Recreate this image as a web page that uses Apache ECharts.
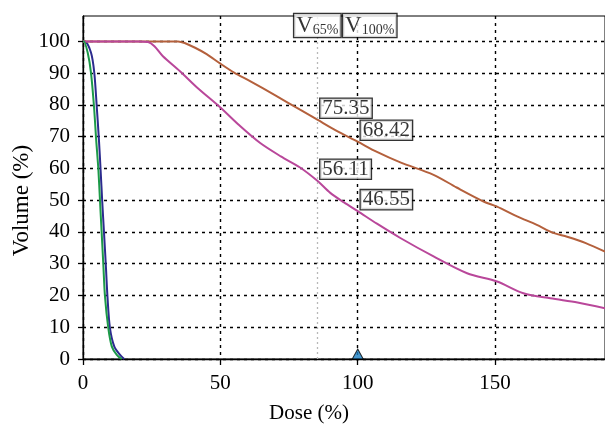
<!DOCTYPE html>
<html>
<head>
<meta charset="utf-8">
<script src="https://cdn.jsdelivr.net/npm/echarts@6/dist/echarts.min.js"></script>
<style>html,body{margin:0;padding:0;background:#fff}#c{width:605px;height:435px}</style>
</head>
<body>
<div id="c"></div>
<script>
// ---- data ----
const xTicks = [0, 50, 100, 150];
const yTicks = [0, 10, 20, 30, 40, 50, 60, 70, 80, 90, 100];
const xMax = 190;
const yMax = 108;
const brownCurve = [[0,100],[34.6,100],[37,99.5],[40.8,98],[45,96],[50,93],[55,90.2],[60.8,87.5],[70,83],[79,78.5],[85.3,75.35],[92,72],[100,68.42],[107,65.2],[115.5,61.9],[127.6,58],[136,54],[145.8,49.6],[150.7,48],[158,44.9],[165,42.3],[171.2,39.7],[176.2,38.5],[183,36.5],[190,33.8]];
const magentaCurve = [[0,100],[20,100],[23.7,99.8],[26,98.5],[29,95.4],[35.3,90.6],[41.5,85.5],[50,79.2],[57,73.5],[64.5,68],[72,63.8],[79,60.3],[85.3,56.11],[90,52.3],[95,49.3],[100,46.55],[107,42.6],[115.5,38.1],[127.6,32.3],[139.8,27],[150.7,24.4],[160.3,20.7],[170.1,19.1],[180,17.8],[190,16]];
const blueCurve = [[0,100],[0.7,100],[2.9,96.5],[4.1,90.2],[5,79.5],[5.8,69],[6.4,59.6],[7,49.6],[7.65,39.7],[8.3,29.7],[8.9,19.7],[9.8,9.8],[11.4,3.9],[13.5,1.3],[15,0]];
const greenCurve = [[0,100],[0.3,100],[1.7,96.5],[2.9,90.2],[4,79.5],[4.8,69],[5.6,59.6],[6.2,49.6],[6.8,39.7],[7.4,29.7],[8,19.7],[9.2,9.8],[10.5,3.9],[12.3,1.3],[14.1,0]];
const refDoses = [85.3, 100];          // V65%, V100% dose lines
const refLabels = ['65%', '100%'];
const valueMarks = [[85.3,75.35],[100,68.42],[85.3,56.11],[100,46.55]];
const prescription = [[100, 0]];

const FONT = 'Liberation Serif';
const chart = echarts.init(document.getElementById('c'), null, {renderer: 'canvas'});

const dotted = {color: '#000', width: 1.4, type: [3, 4]};

chart.setOption({
  animation: false,
  backgroundColor: '#fff',
  grid: {left: 83, right: 0, top: 16, bottom: 76, show: true, borderColor: '#000', borderWidth: 1,
         backgroundColor: 'transparent', containLabel: false, outerBoundsMode: 'none'},
  xAxis: {
    type: 'value', min: 0, max: xMax, interval: 50,
    name: 'Dose (%)', nameLocation: 'middle', nameGap: 44, nameMoveOverlap: false,
    nameTextStyle: {fontFamily: FONT, fontSize: 21, color: '#000', padding: [0, 70, 0, 0]},
    axisLine: {show: true, lineStyle: {color: '#000', width: 1.3}},
    axisTick: {show: true, length: 6, lineStyle: {color: '#000', width: 1.3}, customValues: xTicks},
    axisLabel: {fontFamily: FONT, fontSize: 21, color: '#000', margin: 14, customValues: xTicks},
    splitLine: {show: true, lineStyle: dotted}
  },
  yAxis: {
    type: 'value', min: 0, max: yMax, interval: 10,
    name: 'Volume (%)', nameLocation: 'middle', nameGap: 50, nameRotate: 90, nameMoveOverlap: false,
    nameTextStyle: {fontFamily: FONT, fontSize: 23, color: '#000', padding: [0, 26, 0, 0]},
    axisLine: {show: true, lineStyle: {color: '#000', width: 1.3}},
    axisTick: {show: true, length: 5, lineStyle: {color: '#000', width: 1.3}, customValues: yTicks},
    axisLabel: {fontFamily: FONT, fontSize: 21, color: '#000', margin: 13, customValues: yTicks},
    splitLine: {show: true, lineStyle: dotted}
  },
  series: [
    {type: 'line', data: brownCurve, showSymbol: false, smooth: 0.3, lineStyle: {color: '#b4603c', width: 2}, z: 3,
     markLine: {silent: true, symbol: 'none', label: {show: false},
       lineStyle: {color: '#b8b8b8', width: 1.3, type: [2, 3]},
       data: refDoses.slice(0, 1).map(d => ({xAxis: d}))}},
    {type: 'line', data: magentaCurve, showSymbol: false, smooth: 0.3, lineStyle: {color: '#b9479a', width: 2}, z: 3},
    {type: 'line', data: greenCurve, showSymbol: false, smooth: 0.3, lineStyle: {color: '#1c9a48', width: 2}, z: 3},
    {type: 'line', data: blueCurve, showSymbol: false, smooth: 0.3, lineStyle: {color: '#2c2b8e', width: 2}, z: 2},
    {type: 'scatter', symbolSize: 0, z: 10, silent: true,
     data: valueMarks.map(v => ({value: v})),
     label: {show: true, position: [3, -2], align: 'left', verticalAlign: 'bottom',
       formatter: p => p.value[1].toFixed(2),
       fontFamily: FONT, fontSize: 21, lineHeight: 19, color: '#000',
       backgroundColor: '#fff', borderColor: '#000', borderWidth: 1.3, padding: [0, 2, 0, 2]}},
    {type: 'scatter', symbolSize: 0, z: 10, silent: true,
     data: refDoses.map((d, i) => ({value: [d, yMax], name: refLabels[i],
       label: {position: i === 0 ? [0, -2] : [12, -2]}})),
     label: {show: true, align: 'center', verticalAlign: 'top',
       formatter: p => '{v|V}{s|' + p.name + '}',
       backgroundColor: '#fff', borderColor: '#000', borderWidth: 1.3, padding: [1, 2, 0, 2],
       rich: {v: {fontFamily: FONT, fontSize: 23, color: '#000', lineHeight: 22, verticalAlign: 'bottom'},
              s: {fontFamily: FONT, fontSize: 14, color: '#000', lineHeight: 22, verticalAlign: 'bottom', padding: [6, 0, 0, 0]}}}},
    {type: 'scatter', data: prescription, symbol: 'triangle', symbolSize: [11, 10], symbolOffset: [0, -5], z: 12, silent: true,
     itemStyle: {color: '#1a80c4', borderColor: '#000', borderWidth: 1}}
  ]
});
</script>
</body>
</html>
